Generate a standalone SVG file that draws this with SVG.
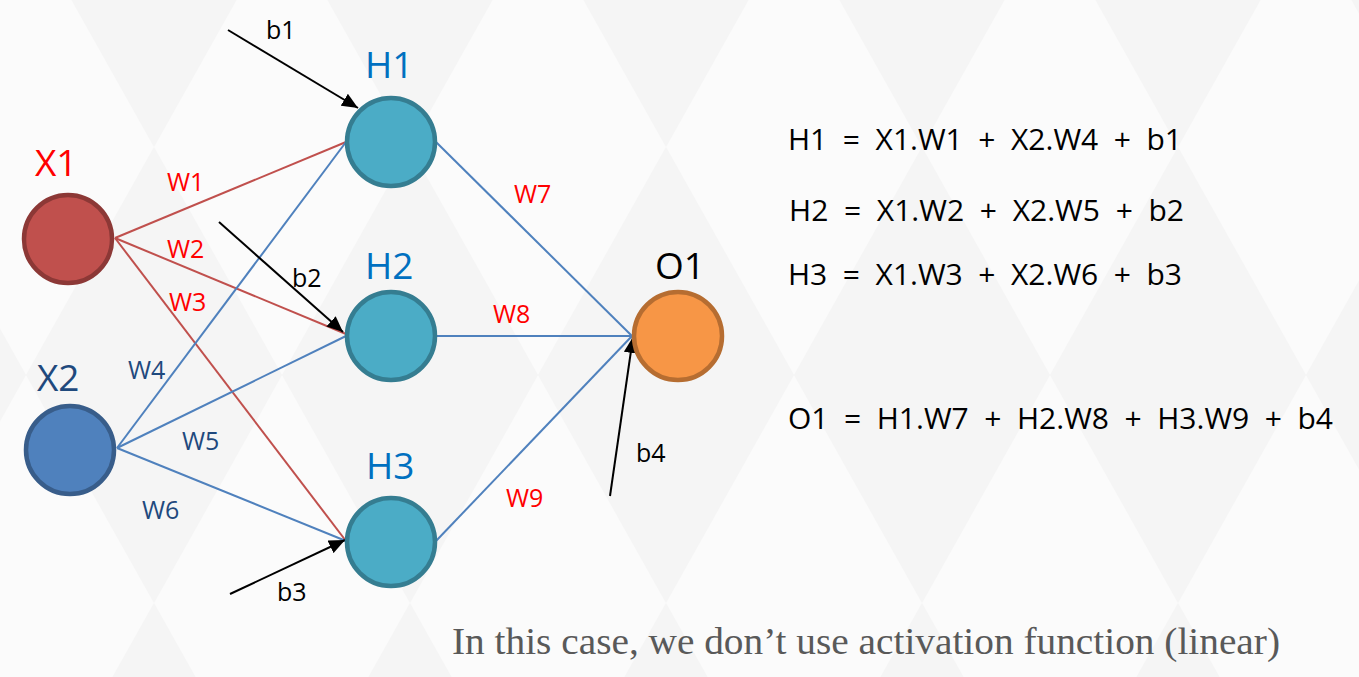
<svg xmlns="http://www.w3.org/2000/svg" width="1359" height="677" viewBox="0 0 1359 677">
<defs>
  <pattern id="bg" patternUnits="userSpaceOnUse" x="26" y="147" width="256" height="456">
    <rect width="256" height="456" fill="#FBFBFB"/>
    <polygon points="128,0 256,228 128,456 0,228" fill="#F5F5F5"/>
  </pattern>
  <marker id="arr" markerUnits="userSpaceOnUse" markerWidth="18" markerHeight="14" refX="16" refY="7" orient="auto">
    <path d="M0,0 L16,7 L0,14 Z" fill="#000"/>
  </marker>
  <style>
    .lbl{font-family:"Open Sans","Noto Sans",sans-serif}
    .big{font-size:37px}
    .w{font-size:25px}
    .b{font-size:25px;fill:#000}
    .red{fill:#FF0000}
    .navy{fill:#1F497D}
    .hl{fill:#0070C0}
    .eq{font-family:"Open Sans","Noto Sans",sans-serif;font-size:30px;fill:#000}
    .er{stroke:#C0504D;stroke-width:2;fill:none}
    .eb{stroke:#4F81BD;stroke-width:2;fill:none}
    .ea{stroke:#000;stroke-width:2;fill:none;marker-end:url(#arr)}
    .node{stroke-width:4.5}
  </style>
</defs>
<rect width="1359" height="677" fill="url(#bg)"/>

<g id="connectors">
  <line class="er" x1="115" y1="238" x2="346" y2="142"/>
  <line class="er" x1="115" y1="238" x2="346" y2="334"/>
  <line class="er" x1="115" y1="238" x2="346" y2="541"/>
  <line class="eb" x1="117" y1="448" x2="346" y2="142"/>
  <line class="eb" x1="117" y1="448" x2="346" y2="336"/>
  <line class="eb" x1="117" y1="448" x2="346" y2="541"/>
  <line class="eb" x1="436" y1="142" x2="632" y2="336"/>
  <line class="eb" x1="436" y1="336" x2="632" y2="336"/>
  <line class="eb" x1="436" y1="541" x2="632" y2="336"/>
  <line class="ea" x1="228" y1="30" x2="358" y2="108"/>
  <line class="ea" x1="219" y1="222" x2="343" y2="332"/>
  <line class="ea" x1="230" y1="594" x2="345" y2="540"/>
  <line class="ea" x1="610" y1="496" x2="633" y2="337"/>
</g>

<g id="X1">
  <circle class="node" cx="68" cy="239" r="44" fill="#C0504D" stroke="#8C3836"/>
  <text class="lbl big red" x="35" y="176">X1</text>
</g>
<g id="X2">
  <circle class="node" cx="70" cy="450" r="44" fill="#4F81BD" stroke="#385D8A"/>
  <text class="lbl big navy" x="37" y="391">X2</text>
</g>
<g id="H1">
  <circle class="node" cx="391" cy="142" r="44" fill="#4BACC6" stroke="#357D91"/>
  <text class="lbl big hl" x="365" y="78">H1</text>
</g>
<g id="H2">
  <circle class="node" cx="391" cy="336" r="44" fill="#4BACC6" stroke="#357D91"/>
  <text class="lbl big hl" x="365" y="279">H2</text>
</g>
<g id="H3">
  <circle class="node" cx="391" cy="542" r="44" fill="#4BACC6" stroke="#357D91"/>
  <text class="lbl big hl" x="366" y="479">H3</text>
</g>
<g id="O1">
  <circle class="node" cx="678" cy="336" r="44" fill="#F79646" stroke="#B66D31"/>
  <text class="lbl big" x="655" y="279" fill="#000">O1</text>
</g>

<g id="weight-labels">
  <text class="lbl w red" x="167" y="191">W1</text>
  <text class="lbl w red" x="167" y="258">W2</text>
  <text class="lbl w red" x="169" y="311">W3</text>
  <text class="lbl w navy" x="128" y="379">W4</text>
  <text class="lbl w navy" x="182" y="450">W5</text>
  <text class="lbl w navy" x="142" y="519">W6</text>
  <text class="lbl w red" x="514" y="203">W7</text>
  <text class="lbl w red" x="493" y="323">W8</text>
  <text class="lbl w red" x="506" y="507">W9</text>
</g>
<g id="bias-labels">
  <text class="lbl b" x="266" y="39">b1</text>
  <text class="lbl b" x="292" y="287">b2</text>
  <text class="lbl b" x="277" y="601">b3</text>
  <text class="lbl b" x="636" y="462">b4</text>
</g>

<g id="equations">
  <text class="eq" xml:space="preserve" x="788" y="150" textLength="394" lengthAdjust="spacing">H1  =  X1.W1  +  X2.W4  +  b1</text>
  <text class="eq" xml:space="preserve" x="789" y="221" textLength="395" lengthAdjust="spacing">H2  =  X1.W2  +  X2.W5  +  b2</text>
  <text class="eq" xml:space="preserve" x="788" y="285" textLength="394" lengthAdjust="spacing">H3  =  X1.W3  +  X2.W6  +  b3</text>
  <text class="eq" xml:space="preserve" x="788" y="429" textLength="545" lengthAdjust="spacing">O1  =  H1.W7  +  H2.W8  +  H3.W9  +  b4</text>
</g>

<text x="452" y="654" font-family="'Liberation Serif','DejaVu Serif',serif" font-size="38" fill="#595959" textLength="828" lengthAdjust="spacingAndGlyphs">In this case, we don’t use activation function (linear)</text>
</svg>
